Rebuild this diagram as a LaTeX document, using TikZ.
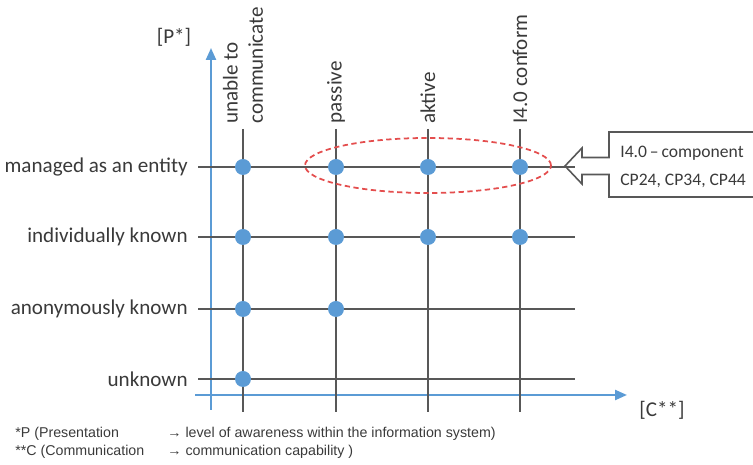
\documentclass[tikz,border=0pt]{standalone}
\usepackage{fontspec}
\setmainfont{Carlito}
\newfontfamily\notefont{Liberation Sans}
\usetikzlibrary{arrows.meta}

\definecolor{axisblue}{RGB}{91,155,213}
\definecolor{gridgray}{RGB}{88,88,88}
\definecolor{textgray}{RGB}{58,58,58}
\definecolor{ovalred}{RGB}{228,78,78}

\tikzset{
  rowlabel/.style={anchor=east, inner sep=0pt, text=textgray, font=\fontsize{12}{14.5}\selectfont},
  collabel/.style={rotate=90, anchor=west, align=left, inner sep=0pt, text=textgray, font=\fontsize{12}{14.5}\selectfont},
  axislabel/.style={inner sep=0pt, text=textgray, font=\fontsize{12}{14.5}\selectfont},
  dot/.style={circle, fill=axisblue, minimum size=0.32cm, inner sep=0pt},
  gridline/.style={gridgray, line width=1pt},
  axis/.style={axisblue, line width=1.3pt, -{Triangle[length=0.24cm, width=0.2cm]}},
  note/.style={anchor=west, inner sep=0pt, text=textgray, font=\notefont\fontsize{8.1}{9}\selectfont}
}

\begin{document}
\begin{tikzpicture}
  \useasboundingbox (0,0) rectangle (15.06,9.3);

  % grid ends
  \foreach \n/\y in {1/5.96, 2/4.56, 3/3.12, 4/1.72} {
    \coordinate (rowL\n) at (3.96,\y);
    \coordinate (rowR\n) at (11.5,\y);
  }
  \foreach \n/\x in {1/4.86, 2/6.72, 3/8.56, 4/10.40} {
    \coordinate (colT\n) at (\x,6.72);
    \coordinate (colB\n) at (\x,1.06);
  }

  % axes
  \coordinate (yaxis0) at (4.22,1.10);
  \coordinate (yaxis1) at (4.22,8.34);
  \coordinate (xaxis0) at (3.90,1.40);
  \coordinate (xaxis1) at (12.54,1.40);
  \draw[axis] (yaxis0) -- (yaxis1);
  \draw[axis] (xaxis0) -- (xaxis1);
  \node[axislabel] (plabel) at (3.48,8.56) {[P*]};
  \node[axislabel] (clabel) at (13.24,1.10) {[C**]};

  \foreach \n in {1,...,4} {
    \draw[gridline] (rowL\n) -- (rowR\n);
    \draw[gridline] (colT\n) -- (colB\n);
  }

  % row labels
  \node[rowlabel] (managed) at ([xshift=-0.2cm]rowL1) {managed as an entity};
  \node[rowlabel] (individually) at ([xshift=-0.2cm]rowL2) {individually known};
  \node[rowlabel] (anonymously) at ([xshift=-0.2cm]rowL3) {anonymously known};
  \node[rowlabel] (unknown) at ([xshift=-0.2cm]rowL4) {unknown};

  % column labels
  \node[collabel] (unable) at ([yshift=0.1cm]colT1) {unable to\\communicate};
  \node[collabel] (passive) at ([yshift=0.1cm]colT2) {passive};
  \node[collabel] (aktive) at ([yshift=0.1cm]colT3) {aktive};
  \node[collabel] (conform) at ([yshift=0.1cm]colT4) {I4.0 conform};

  % dots
  \foreach \c/\r in {1/1, 2/1, 3/1, 4/1, 1/2, 2/2, 3/2, 4/2, 1/3, 2/3, 1/4}
    \node[dot] (dot\c\r) at (colT\c |- rowL\r) {};

  \draw[ovalred, line width=1pt, dash pattern=on 3pt off 2pt] (8.56,5.99) ellipse [x radius=2.46, y radius=0.55];

  % component callout
  \node[anchor=west, align=left, inner sep=0pt, text=textgray, font=\fontsize{10}{15.5}\selectfont]
    (component) at (12.4,5.96) {I4.0\,--\,component\\CP24, CP34, CP44};
  \coordinate (tip) at (11.3,5.98);
  \draw[gridline, line width=0.9pt] (15.2,6.66) -- (12.18,6.66) -- (12.18,6.15) -- (11.64,6.15) -- (11.64,6.34)
    -- (tip) -- (11.64,5.62) -- (11.64,5.81) -- (12.18,5.81) -- (12.18,5.36) -- (15.2,5.36);

  % footnote
  \node[note] (pnote) at (0.3,0.62) {*P (Presentation};
  \node[note] (pnote2) at (3.34,0.62) {→ level of awareness within the information system)};
  \node[note] (cnote) at (0.3,0.26) {**C (Communication};
  \node[note] (cnote2) at (3.34,0.26) {→ communication capability )};
\end{tikzpicture}
\end{document}
